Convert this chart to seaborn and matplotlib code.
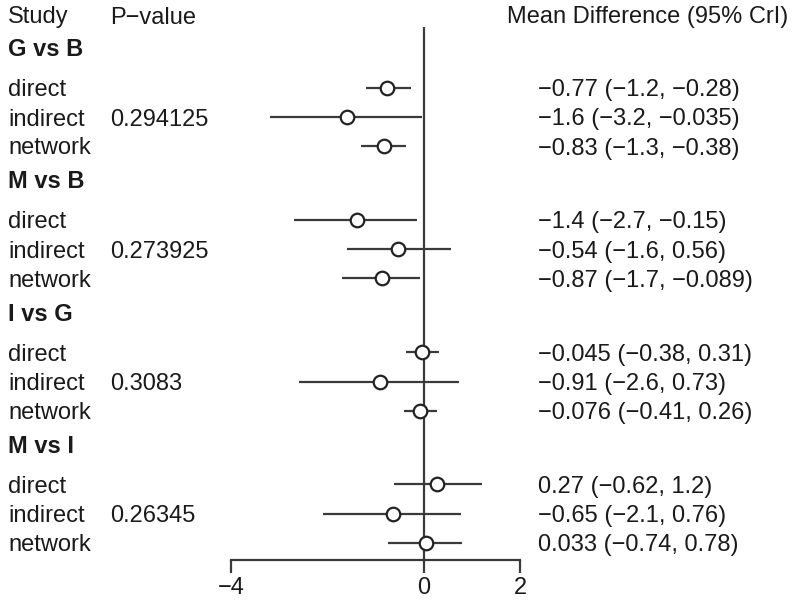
import matplotlib
matplotlib.use("Agg")
import matplotlib.pyplot as plt
import seaborn as sns
import pandas as pd
import numpy as np

groups = ["G vs B", "M vs B", "I vs G", "M vs I"]
kinds = ["direct", "indirect", "network"]
p_values = [0.294125, 0.273925, 0.3083, 0.26345]
means = [[-0.77, -1.6, -0.83],
         [-1.4, -0.54, -0.87],
         [-0.045, -0.91, -0.076],
         [0.27, -0.65, 0.033]]
lowers = [[-1.2, -3.2, -1.3],
          [-2.7, -1.6, -1.7],
          [-0.38, -2.6, -0.41],
          [-0.62, -2.1, -0.74]]
uppers = [[-0.28, -0.035, -0.38],
          [-0.15, 0.56, -0.089],
          [0.31, 0.73, 0.26],
          [1.2, 0.76, 0.78]]
xticks = [-4, 0, 2]

sns.set_theme(style="white")
plt.rcParams['font.family'] = ['Liberation Sans', 'DejaVu Sans']

FS = 17
TXT = "#1a1a1a"
LN = "#3a3a3a"

# layout in pixel-like units
px0 = 424.0       # pixel of x=0
ppu = 48.2        # pixels per unit
group_y0 = 47.0
group_step = 132.3
row_off = [40.5, 70.0, 99.0]
tdy = 2.5         # text vertical nudge

rows = []
for g, grp in enumerate(groups):
    for k, kind in enumerate(kinds):
        rows.append(dict(group=grp, kind=kind, y=group_y0 + g * group_step + row_off[k],
                         mean=means[g][k], lo=lowers[g][k], hi=uppers[g][k]))
df = pd.DataFrame(rows)

fig = plt.figure(figsize=(8, 6.04), dpi=100)
ax = fig.add_axes([0, 0, 1, 1])
ax.set_xlim((0 - px0) / ppu, (800 - px0) / ppu)
ax.set_ylim(604, 0)

def x_of_px(px):
    return (px - px0) / ppu

def fmt(v):
    return f"{v:g}".replace("-", "\u2212")

# zero line
ax.plot([0, 0], [27, 560], color=LN, lw=1.6, zorder=2, solid_capstyle="butt")
# CI lines
ax.hlines(df["y"], df["lo"], df["hi"], color=LN, lw=1.6, zorder=3)
# points
sns.scatterplot(data=df, x="mean", y="y", ax=ax, s=95, marker="o",
                facecolor="white", edgecolor="#222222", linewidth=1.6, zorder=4, legend=False)

# headers
ax.text(x_of_px(8), 15 + tdy, "Study", fontsize=FS, color=TXT, va="center", ha="left")
ax.text(x_of_px(110), 15 + tdy, "P\u2212value", fontsize=FS, color=TXT, va="center", ha="left")
ax.text(x_of_px(507), 15 + tdy, "Mean Difference (95% CrI)", fontsize=FS, color=TXT, va="center", ha="left")

for g, grp in enumerate(groups):
    gy = group_y0 + g * group_step
    ax.text(x_of_px(8), gy + tdy, grp, fontsize=FS, fontweight="bold", color=TXT, va="center", ha="left")
    ax.text(x_of_px(110), gy + row_off[1] + tdy, fmt(p_values[g]), fontsize=FS, color=TXT, va="center", ha="left")

for _, r in df.iterrows():
    ax.text(x_of_px(8), r["y"] + tdy, r["kind"], fontsize=FS, color=TXT, va="center", ha="left")
    ax.text(x_of_px(538), r["y"] + tdy, f"{fmt(r['mean'])} ({fmt(r['lo'])}, {fmt(r['hi'])})",
            fontsize=FS, color=TXT, va="center", ha="left")

# x axis
for s in ["top", "left", "right"]:
    ax.spines[s].set_visible(False)
ax.spines["bottom"].set_position(("data", 560))
ax.spines["bottom"].set_bounds(xticks[0], xticks[-1])
ax.spines["bottom"].set_color(LN)
ax.spines["bottom"].set_linewidth(1.6)
ax.set_xticks(xticks)
ax.set_xticklabels([fmt(t) for t in xticks], fontsize=FS, color=TXT)
ax.tick_params(axis="x", direction="out", length=9, width=1.6, color=LN, pad=3, bottom=True)
ax.set_yticks([])
ax.set_xlabel("")
ax.set_ylabel("")
ax.grid(False)

fig.savefig("out.png", dpi=100)
